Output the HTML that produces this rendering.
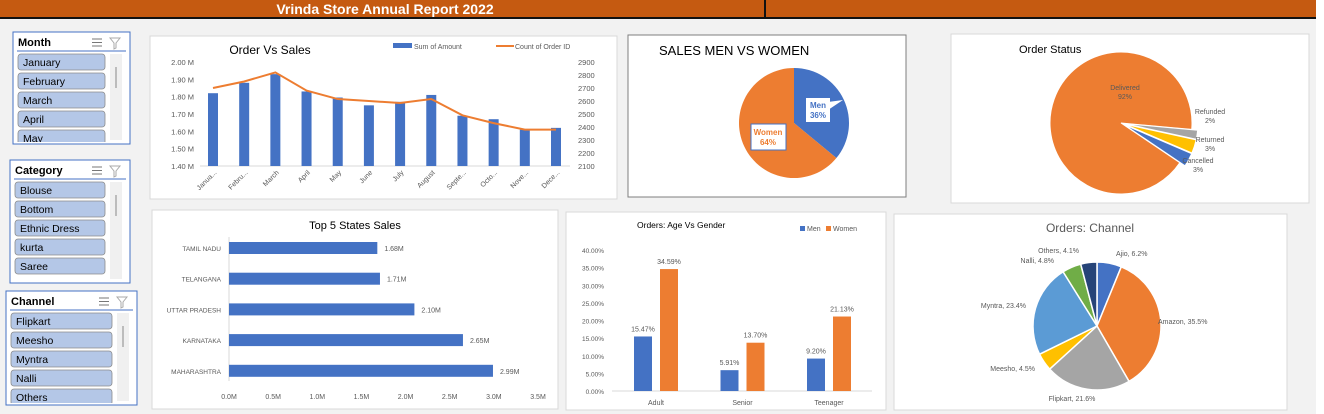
<!DOCTYPE html>
<html><head><meta charset="utf-8"><style>
body{margin:0;width:1324px;height:414px;overflow:hidden;background:#f2f2f2;font-family:"Liberation Sans",sans-serif;}
svg{position:absolute;left:0;top:0}
</style></head><body>
<svg id="s" width="1324" height="414" xmlns="http://www.w3.org/2000/svg">
<rect x="0" y="0" width="1316" height="17" fill="#c55a11"/>
<rect x="0" y="17" width="1316" height="2" fill="#111"/>
<rect x="764" y="0" width="2" height="17" fill="#111"/>
<rect x="1316" y="0" width="8" height="414" fill="#fff"/>
<text x="385" y="14" text-anchor="middle" font-size="14" font-weight="bold" fill="#fff">Vrinda Store Annual Report 2022</text>
<g id="slicers"></g>
<g id="c1"></g><g id="c2"></g><g id="c3"></g><g id="c4"></g><g id="c5"></g><g id="c6"></g>
</svg>
<script>
const NS='http://www.w3.org/2000/svg';
function mk(p,tag,a,txt){const e=document.createElementNS(NS,tag);for(const k in a)e.setAttribute(k,a[k]);if(txt!==undefined)e.textContent=txt;p.appendChild(e);return e;}
const S=document.getElementById('s');

// ---------- slicers ----------
const monthItems=['January','February','March','April','May'];
const categoryItems=['Blouse','Bottom','Ethnic Dress','kurta','Saree'];
const channelItems=['Flipkart','Meesho','Myntra','Nalli','Others'];
function slicer(name,items,x,y,w,h,key){
  const g=mk(document.getElementById('slicers'),'g',{});
  
  
  mk(g,'rect',{x:x,y:y,width:w,height:h,fill:'#fff',stroke:'#4472c4','stroke-width':1});
  const t=mk(g,'text',{x:x+5,y:y+14,'font-size':11,'font-weight':'bold',fill:'#000'},name);
  
  
  mk(g,'line',{x1:x+4,y1:y+19,x2:x+w-4,y2:y+19,stroke:'#4472c4'});
  const ms=mk(g,'g',{});
  
  
  for(let i=0;i<3;i++)mk(ms,'line',{x1:x+w-38,y1:y+7+i*3.5,x2:x+w-28,y2:y+7+i*3.5,stroke:'#777'});
  const cf=mk(g,'path',{d:`M${x+w-20} ${y+6}h10l-4 5v5l-2 1v-6z`,fill:'none',stroke:'#aaa'});
  
  
  const clipId='cl'+key;
  const cp=mk(g,'clipPath',{id:clipId});mk(cp,'rect',{x:x,y:y+21,width:w,height:h-23});
  const ig=mk(g,'g',{'clip-path':`url(#${clipId})`});
  items.forEach((it,i)=>{
    const iy=y+22+i*19;
    const b=mk(ig,'g',{});
    
    
    mk(b,'rect',{x:x+5,y:iy,width:w-30,height:16,rx:3,fill:'#b4c7e7',stroke:'#8c8c8c','stroke-width':0.8});
    mk(b,'text',{x:x+10,y:iy+12,'font-size':10.5,fill:'#000'},it);
  });
  mk(g,'rect',{x:x+w-20,y:y+22,width:12,height:h-26,fill:'#f0f0f0'});
  mk(g,'line',{x1:x+w-14,y1:y+35,x2:x+w-14,y2:y+56,stroke:'#888'});
}
slicer('Month',monthItems,13,32,117,112,'month');
slicer('Category',categoryItems,10,160,120,123,'category');
slicer('Channel',channelItems,6,291,131,114,'channel');

function panel(g,x,y,w,h,stroke,name){const r=mk(g,'rect',{x:x,y:y,width:w,height:h,fill:'#fff',stroke:stroke});}
function txt(g,x,y,s,t,o,name){const e=mk(g,'text',Object.assign({x:x,y:y,'font-size':s,fill:'#595959'},o||{}),t);return e;}

// ---------- chart 1: Order Vs Sales ----------
const months=['January','February','March','April','May','June','July','August','September','October','November','December'];
const monthLabels=['Janua...','Febru...','March','April','May','June','July','August','Septe...','Octo...','Nove...','Dece...'];
const salesM=[1.82,1.88,1.93,1.83,1.795,1.75,1.77,1.81,1.69,1.67,1.61,1.62];
const orderCount=[2700,2750,2820,2680,2615,2600,2585,2615,2490,2430,2380,2380];
const leftTicks=[1.40,1.50,1.60,1.70,1.80,1.90,2.00];
const rightTicks=[2100,2200,2300,2400,2500,2600,2700,2800,2900];
(function(){
  const g=document.getElementById('c1');
  panel(g,150,36,467,163,'#d9d9d9','order-vs-sales-panel');
  txt(g,270,54,12,'Order Vs Sales',{'text-anchor':'middle',fill:'#000'},'order-vs-sales-title');
  const top=62,bot=166,x0=200,x1=570;
  const yL=v=>bot-(v-1.4)/0.6*(bot-top);
  const yR=v=>bot-(v-2100)/800*(bot-top);
  const xC=i=>213+i*(556-213)/11;
  leftTicks.forEach(t=>txt(g,194,yL(t)+3,7.5,t.toFixed(2)+' M',{'text-anchor':'end'},'left-tick'));
  rightTicks.forEach(t=>txt(g,578,yR(t)+3,7.5,t,{},'right-tick'));
  mk(g,'line',{x1:x0,y1:bot,x2:x1,y2:bot,stroke:'#d9d9d9'});
  salesM.forEach((v,i)=>{const r=mk(g,'rect',{x:xC(i)-5,y:yL(v),width:10,height:bot-yL(v),fill:'#4472c4'});
    });
  const pl=mk(g,'polyline',{points:orderCount.map((v,i)=>xC(i)+','+yR(v)).join(' '),fill:'none',stroke:'#ed7d31','stroke-width':2});
  
  monthLabels.forEach((m,i)=>txt(g,xC(i)+4,bot+7,7,m,{'text-anchor':'end',transform:`rotate(-45 ${xC(i)+4} ${bot+7})`},'x-tick-'+months[i].toLowerCase()));
  const l1=mk(g,'rect',{x:393,y:43,width:19,height:5,fill:'#4472c4'});
  txt(g,414,49,7,'Sum of Amount',{},'legend-amount');
  const l2=mk(g,'line',{x1:496,y1:46,x2:514,y2:46,stroke:'#ed7d31','stroke-width':2});
  txt(g,515,49,7,'Count of Order ID',{},'legend-orders');
})();

function arc(cx,cy,r,a0,a1){const p=a=>[cx+r*Math.sin(a*Math.PI/180),cy-r*Math.cos(a*Math.PI/180)];const [x0,y0]=p(a0),[x1,y1]=p(a1);return `M${cx} ${cy}L${x0} ${y0}A${r} ${r} 0 ${a1-a0>180?1:0} 1 ${x1} ${y1}Z`;}

// ---------- chart 2: Sales Men vs Women ----------
const genders=['Men','Women'];
const genderShare=[36,64];
const genderColors=['#4472c4','#ed7d31'];
(function(){
  const g=document.getElementById('c2');
  panel(g,628,35,278,162,'#7f7f7f','sales-gender-panel');
  txt(g,659,55,13,'SALES MEN VS WOMEN',{fill:'#000'},'sales-gender-title');
  let a=0;const tot=genderShare.reduce((s,v)=>s+v,0);
  genderShare.forEach((v,i)=>{const a1=a+v/tot*360;const p=mk(g,'path',{d:arc(794,123,55,a,a1),fill:genderColors[i]});
    a=a1;});
  mk(g,'rect',{x:806,y:98,width:24,height:24,fill:'#fff'});
  mk(g,'path',{d:'M828 102L843 100L828 110Z',fill:'#fff'});
  txt(g,818,108,8,'Men',{'text-anchor':'middle','font-weight':'bold',fill:'#4472c4'},'men-label');
  txt(g,818,118,8,genderShare[0]+'%',{'text-anchor':'middle','font-weight':'bold',fill:'#4472c4'},'men-value');
  mk(g,'rect',{x:751,y:124,width:35,height:26,fill:'#fff',stroke:'#4472c4'});
  txt(g,768,135,8,'Women',{'text-anchor':'middle','font-weight':'bold',fill:'#ed7d31'},'women-label');
  txt(g,768,145,8,genderShare[1]+'%',{'text-anchor':'middle','font-weight':'bold',fill:'#ed7d31'},'women-value');
})();

// ---------- chart 3: Order Status ----------
const statuses=['Delivered','Refunded','Returned','Cancelled'];
const statusShare=[92,2,3,3];
const statusColors=['#ed7d31','#a5a5a5','#ffc000','#4472c4'];
(function(){
  const g=document.getElementById('c3');
  panel(g,951,34,358,169,'#d9d9d9','order-status-panel');
  txt(g,1019,53,11,'Order Status',{fill:'#000'},'order-status-title');
  const tot=statusShare.reduce((s,v)=>s+v,0);let a=124;
  statusShare.forEach((v,i)=>{const a1=a+v/tot*360;const mid=(a+a1)/2*Math.PI/180;const off=i?4:0;
    const p=mk(g,'path',{d:arc(1121+off*Math.sin(mid),123-off*Math.cos(mid),i?73:71,a,a1),fill:statusColors[i],stroke:'#fff','stroke-width':1});
    a=a1;});
  const lp=[[1125,90],[1210,114],[1210,142],[1198,163]];
  statuses.forEach((s,i)=>{txt(g,lp[i][0],lp[i][1],7,s,{'text-anchor':'middle'},'label-'+s.toLowerCase());
    txt(g,lp[i][0]+(i==1?0:0),lp[i][1]+9,7,statusShare[i]+'%',{'text-anchor':'middle'},'value-'+s.toLowerCase());});
})();

// ---------- chart 4: Top 5 States ----------
const states=['TAMIL NADU','TELANGANA','UTTAR PRADESH','KARNATAKA','MAHARASHTRA'];
const stateSales=[1.68,1.71,2.10,2.65,2.99];
const stateTicks=[0,0.5,1,1.5,2,2.5,3,3.5];
(function(){
  const g=document.getElementById('c4');
  panel(g,152,210,406,199,'#d9d9d9','top-states-panel');
  txt(g,355,229,11,'Top 5 States Sales',{'text-anchor':'middle',fill:'#000'},'top-states-title');
  const x0=229,x1=538,xs=v=>x0+v/3.5*(x1-x0);
  mk(g,'line',{x1:x0,y1:237,x2:x0,y2:381,stroke:'#d9d9d9'});
  stateTicks.forEach(t=>txt(g,xs(t),399,7,t.toFixed(1)+'M',{'text-anchor':'middle'},'x-tick'));
  stateSales.forEach((v,i)=>{const cy=248+i*30.7;
    const r=mk(g,'rect',{x:x0,y:cy-6,width:xs(v)-x0,height:12,fill:'#4472c4'});
    
    txt(g,221,cy+3,6.5,states[i],{'text-anchor':'end'},'state-label');
    txt(g,xs(v)+7,cy+3,7,v.toFixed(2)+'M',{},'bar-value');});
})();

// ---------- chart 5: Age vs Gender ----------
const ageGroups=['Adult','Senior','Teenager'];
const menPct=[15.47,5.91,9.20];
const womenPct=[34.59,13.70,21.13];
const pctTicks=[0,5,10,15,20,25,30,35,40];
(function(){
  const g=document.getElementById('c5');
  panel(g,566,212,320,198,'#d9d9d9','age-gender-panel');
  txt(g,637,228,8.5,'Orders: Age Vs Gender',{fill:'#000'},'age-gender-title');
  const l1=mk(g,'rect',{x:800,y:226,width:5,height:5,fill:'#4472c4'});
  txt(g,807,231,7,'Men',{},'legend-men');
  const l2=mk(g,'rect',{x:826,y:226,width:5,height:5,fill:'#ed7d31'});
  txt(g,833,231,7,'Women',{},'legend-women');
  const bot=391,top=250,ys=v=>bot-v/40*(bot-top);
  pctTicks.forEach(t=>txt(g,604,ys(t)+3,6.5,t.toFixed(2)+'%',{'text-anchor':'end'},'y-tick'));
  mk(g,'line',{x1:612,y1:bot,x2:872,y2:bot,stroke:'#d9d9d9'});
  ageGroups.forEach((a,i)=>{const cx=656+i*86.5;
    [[menPct,'#4472c4',-13,'men'],[womenPct,'#ed7d31',13,'women']].forEach(([arr,c,dx,k])=>{
      const v=arr[i];const r=mk(g,'rect',{x:cx+dx-9,y:ys(v),width:18,height:bot-ys(v),fill:c});
      
      txt(g,cx+dx,ys(v)-5,7,v.toFixed(2)+'%',{'text-anchor':'middle'},'bar-value');});
    txt(g,cx,405,7,a,{'text-anchor':'middle'},'category-'+a.toLowerCase());});
})();

// ---------- chart 6: Channel ----------
const channels=['Ajio','Amazon','Flipkart','Meesho','Myntra','Nalli','Others'];
const channelShare=[6.2,35.5,21.6,4.5,23.4,4.8,4.1];
const channelColors=['#4472c4','#ed7d31','#a5a5a5','#ffc000','#5b9bd5','#70ad47','#264478'];
(function(){
  const g=document.getElementById('c6');
  panel(g,894,214,393,196,'#d9d9d9','channel-panel');
  txt(g,1090,232,12,'Orders: Channel',{'text-anchor':'middle'},'channel-title');
  const tot=channelShare.reduce((s,v)=>s+v,0);let a=0;
  const lp=[[1116,256,'start'],[1158,324,'start'],[1072,401,'middle'],[1035,371,'end'],[1026,308,'end'],[1054,263,'end'],[1079,253,'end']];
  channelShare.forEach((v,i)=>{const a1=a+v/tot*360;
    const p=mk(g,'path',{d:arc(1097,326,64,a,a1),fill:channelColors[i],stroke:'#fff','stroke-width':1.5});
    a=a1;
    txt(g,lp[i][0],lp[i][1],7,channels[i]+', '+v+'%',{'text-anchor':lp[i][2]},'label-'+channels[i].toLowerCase());});
})();
</script>
</body></html>
